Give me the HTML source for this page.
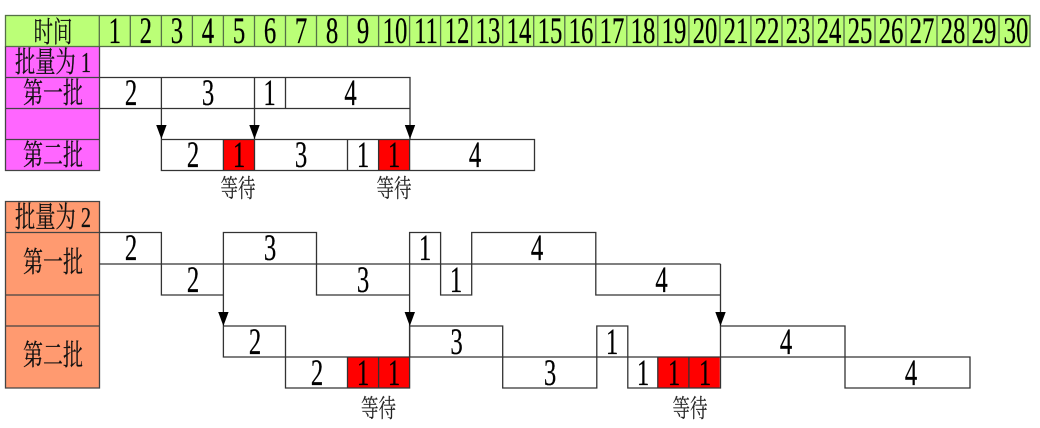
<!DOCTYPE html>
<html><head><meta charset="utf-8">
<style>
html,body{margin:0;padding:0;background:#fff;width:1040px;height:428px;overflow:hidden}
svg{display:block}
.d{font-family:"Liberation Serif",serif;font-size:37.5px;fill:#000;stroke:#000;stroke-width:.25;text-anchor:middle}
.c{font-family:"Liberation Serif","Noto Serif CJK SC",serif;font-size:29px;fill:#111;stroke:#111;stroke-width:.2;text-anchor:middle}
.w{font-family:"Liberation Serif","Noto Serif CJK SC",serif;font-size:25px;fill:#222;stroke:#222;stroke-width:.15;text-anchor:middle}
</style></head><body>
<svg width="1040" height="428" viewBox="0 0 1040 428" xmlns="http://www.w3.org/2000/svg">
<!-- fills -->
<rect x="5.5" y="15.5" width="1024.5" height="31" fill="#bbff77"/>
<rect x="5.5" y="46.5" width="94" height="124" fill="#ff66ff"/>
<rect x="5.5" y="201.5" width="94" height="186.5" fill="#ff9a70"/>
<g fill="#f00">
<rect x="223.4" y="139.5" width="31" height="31"/>
<rect x="378.6" y="139.5" width="31" height="31"/>
<rect x="347.5" y="357" width="62" height="31"/>
<rect x="657.8" y="357" width="62" height="31"/>
</g>
<!-- header grid -->
<g fill="none" stroke="#557048" stroke-width="1.3">
<rect x="5.5" y="15.5" width="1024.5" height="31"/>
<path d="M99.3 15.5V46.5M130.3 15.5V46.5M161.4 15.5V46.5M192.4 15.5V46.5M223.4 15.5V46.5M254.5 15.5V46.5M285.5 15.5V46.5M316.5 15.5V46.5M347.5 15.5V46.5M378.6 15.5V46.5M409.6 15.5V46.5M440.6 15.5V46.5M471.7 15.5V46.5M502.7 15.5V46.5M533.7 15.5V46.5M564.8 15.5V46.5M595.8 15.5V46.5M626.8 15.5V46.5M657.8 15.5V46.5M688.9 15.5V46.5M719.9 15.5V46.5M750.9 15.5V46.5M782 15.5V46.5M813 15.5V46.5M844 15.5V46.5M875 15.5V46.5M906 15.5V46.5M937 15.5V46.5M968 15.5V46.5M999 15.5V46.5"/>
</g>
<!-- left tables -->
<g fill="none" stroke="#444" stroke-width="1.3">
<path d="M5.5 46.5V170.5H99.5V46.5M5.5 77.5H99.5M5.5 108.5H99.5M5.5 139.5H99.5"/>
<path d="M5.5 201.5H99.5V388H5.5ZM5.5 232.5H99.5M5.5 295H99.5M5.5 326H99.5"/>
</g>
<!-- batch size 1 -->
<g fill="none" stroke="#333" stroke-width="1.3">
<path d="M99.5 77.5H410V108.5H99.5M161.4 77.5V139M254.5 77.5V139M285.5 77.5V108.5M410 108.5V139"/>
<path d="M161.4 139.5H534.5V170.5H161.4ZM223.4 139.5V170.5M254.5 139.5V170.5M347.5 139.5V170.5M378.6 139.5V170.5M409.6 139.5V170.5"/>
</g>
<!-- batch size 2 -->
<g fill="none" stroke="#333" stroke-width="1.3">
<path d="M99.5 232.5H161.4V295H223.4M99.5 264H720.5M223.4 326V232.5H316.5V295H409.6M409.6 357V232.5H440.6V295H471.7V232.5H595.8V295H720.5M720.5 264V326"/>
<path d="M223.4 326H285.5V388H409.6V326H502.7V388H596.8V326H627.8V388H720.5V326H845V388H970V357H223.4V326M720.5 326V388"/>
<path d="M347.5 357V388M378.6 357V388M657.8 357V388M688.9 357V388"/>
</g>
<!-- arrowheads -->
<g fill="#000">
<path d="M156.2 125H166.6L161.4 139Z"/>
<path d="M249.3 125H259.7L254.5 139Z"/>
<path d="M404.8 125H415.2L410 139Z"/>
<path d="M218.2 312H228.6L223.4 326Z"/>
<path d="M404.6 312H415L409.8 326Z"/>
<path d="M715.3 312H725.7L720.5 326Z"/>
</g>
<!-- header text -->
<text class="c" transform="translate(53 42) scale(.67 1)">时间</text>
<g>
<text class="d" transform="translate(114.8 43) scale(.66 1)">1</text>
<text class="d" transform="translate(145.8 43) scale(.66 1)">2</text>
<text class="d" transform="translate(176.9 43) scale(.66 1)">3</text>
<text class="d" transform="translate(207.9 43) scale(.66 1)">4</text>
<text class="d" transform="translate(239 43) scale(.66 1)">5</text>
<text class="d" transform="translate(270 43) scale(.66 1)">6</text>
<text class="d" transform="translate(301 43) scale(.66 1)">7</text>
<text class="d" transform="translate(332 43) scale(.66 1)">8</text>
<text class="d" transform="translate(363 43) scale(.66 1)">9</text>
<text class="d" transform="translate(395 43) scale(.66 1)">10</text>
<text class="d" transform="translate(426 43) scale(.66 1)">11</text>
<text class="d" transform="translate(457 43) scale(.66 1)">12</text>
<text class="d" transform="translate(488 43) scale(.66 1)">13</text>
<text class="d" transform="translate(519 43) scale(.66 1)">14</text>
<text class="d" transform="translate(550 43) scale(.66 1)">15</text>
<text class="d" transform="translate(581 43) scale(.66 1)">16</text>
<text class="d" transform="translate(612 43) scale(.66 1)">17</text>
<text class="d" transform="translate(643 43) scale(.66 1)">18</text>
<text class="d" transform="translate(674 43) scale(.66 1)">19</text>
<text class="d" transform="translate(705 43) scale(.66 1)">20</text>
<text class="d" transform="translate(736 43) scale(.66 1)">21</text>
<text class="d" transform="translate(767 43) scale(.66 1)">22</text>
<text class="d" transform="translate(798 43) scale(.66 1)">23</text>
<text class="d" transform="translate(829 43) scale(.66 1)">24</text>
<text class="d" transform="translate(860 43) scale(.66 1)">25</text>
<text class="d" transform="translate(891 43) scale(.66 1)">26</text>
<text class="d" transform="translate(922 43) scale(.66 1)">27</text>
<text class="d" transform="translate(953 43) scale(.66 1)">28</text>
<text class="d" transform="translate(984 43) scale(.66 1)">29</text>
<text class="d" transform="translate(1016 43) scale(.66 1)">30</text>
</g>
<!-- left labels -->
<text class="c" transform="translate(53 72) scale(.7 1)">批量为 1</text>
<text class="c" transform="translate(53 103) scale(.69 1)">第一批</text>
<text class="c" transform="translate(53 165) scale(.69 1)">第二批</text>
<text class="c" transform="translate(53 227) scale(.7 1)">批量为 2</text>
<text class="c" transform="translate(53 272) scale(.69 1)">第一批</text>
<text class="c" transform="translate(53 365) scale(.69 1)">第二批</text>
<!-- batch 1 digits -->
<text class="d" transform="translate(131 105) scale(.66 1)">2</text>
<text class="d" transform="translate(208 105) scale(.66 1)">3</text>
<text class="d" transform="translate(269.5 105) scale(.66 1)">1</text>
<text class="d" transform="translate(350.5 105) scale(.66 1)">4</text>
<text class="d" transform="translate(193 167) scale(.66 1)">2</text>
<text class="d" transform="translate(239 167) scale(.66 1)">1</text>
<text class="d" transform="translate(301 167) scale(.66 1)">3</text>
<text class="d" transform="translate(363 167) scale(.66 1)">1</text>
<text class="d" transform="translate(394 167) scale(.66 1)">1</text>
<text class="d" transform="translate(475 167) scale(.66 1)">4</text>
<!-- batch 2 digits -->
<text class="d" transform="translate(131 260) scale(.66 1)">2</text>
<text class="d" transform="translate(193 292) scale(.66 1)">2</text>
<text class="d" transform="translate(270 260) scale(.66 1)">3</text>
<text class="d" transform="translate(363 292) scale(.66 1)">3</text>
<text class="d" transform="translate(425 260) scale(.66 1)">1</text>
<text class="d" transform="translate(456 292) scale(.66 1)">1</text>
<text class="d" transform="translate(537 260) scale(.66 1)">4</text>
<text class="d" transform="translate(661.5 292) scale(.66 1)">4</text>
<text class="d" transform="translate(255 354) scale(.66 1)">2</text>
<text class="d" transform="translate(317 385) scale(.66 1)">2</text>
<text class="d" transform="translate(363 385) scale(.66 1)">1</text>
<text class="d" transform="translate(394 385) scale(.66 1)">1</text>
<text class="d" transform="translate(456.5 354) scale(.66 1)">3</text>
<text class="d" transform="translate(550 385) scale(.66 1)">3</text>
<text class="d" transform="translate(612 354) scale(.66 1)">1</text>
<text class="d" transform="translate(643 385) scale(.66 1)">1</text>
<text class="d" transform="translate(674 385) scale(.66 1)">1</text>
<text class="d" transform="translate(705 385) scale(.66 1)">1</text>
<text class="d" transform="translate(786 354) scale(.66 1)">4</text>
<text class="d" transform="translate(911 385) scale(.66 1)">4</text>
<!-- wait labels -->
<text class="w" transform="translate(238 197) scale(.7 1)">等待</text>
<text class="w" transform="translate(394 197) scale(.7 1)">等待</text>
<text class="w" transform="translate(378.5 417) scale(.7 1)">等待</text>
<text class="w" transform="translate(690 417) scale(.7 1)">等待</text>
</svg>
</body></html>
